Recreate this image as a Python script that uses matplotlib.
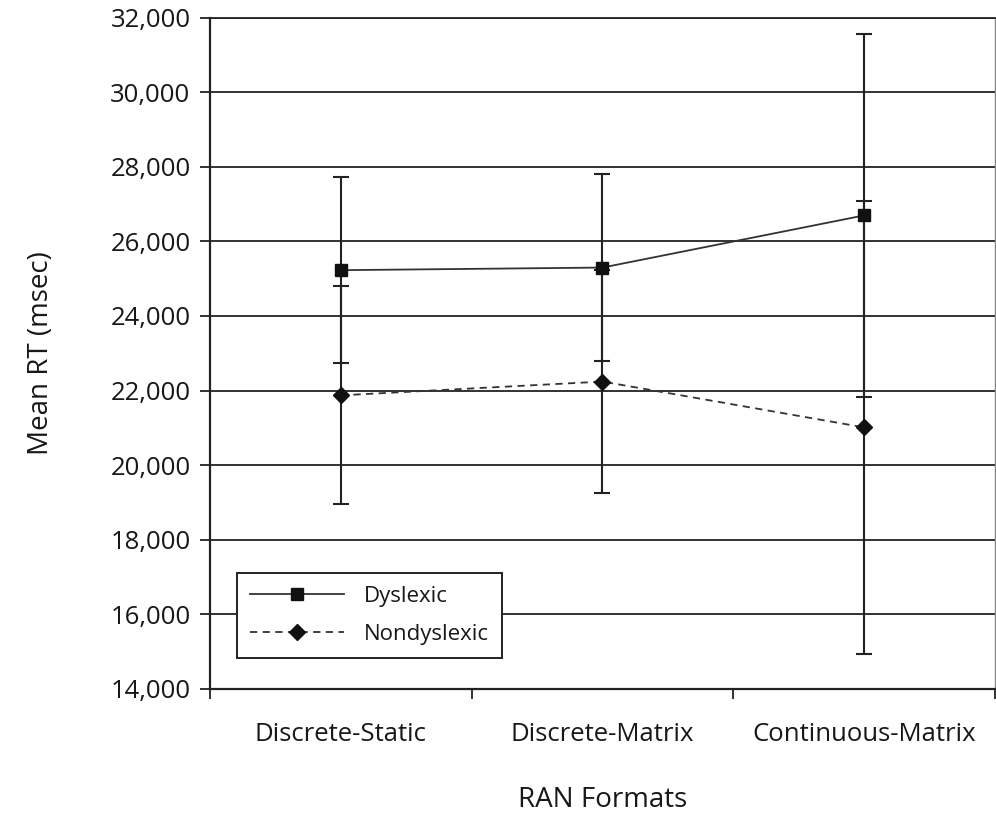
import matplotlib
matplotlib.use('Agg')
import matplotlib.pyplot as plt
import numpy as np

formats = ['Discrete-Static', 'Discrete-Matrix', 'Continuous-Matrix']
dyslexic_mean = [25230, 25300, 26700]
dyslexic_sd = [2500, 2520, 4870]
nondyslexic_mean = [21870, 22240, 21010]
nondyslexic_sd = [2930, 2990, 6090]
yticks = [14000, 16000, 18000, 20000, 22000, 24000, 26000, 28000, 30000, 32000]

plt.rcParams['font.family'] = ['Open Sans', 'DejaVu Sans']
text_color = '#1a1718'
tick_size = 18.5
label_size = 20

fig = plt.figure(figsize=(9.96, 8.13), dpi=100)
ax = fig.add_axes([0.2108, 0.1531, 0.7882, 0.8248])

x = np.arange(len(formats))

ax.errorbar(x, dyslexic_mean, yerr=dyslexic_sd, fmt='none', ecolor='#222222',
            elinewidth=1.5, capsize=6, capthick=1.5, zorder=3)
ax.errorbar(x, nondyslexic_mean, yerr=nondyslexic_sd, fmt='none', ecolor='#222222',
            elinewidth=1.5, capsize=6, capthick=1.5, zorder=3)

ax.plot(x, dyslexic_mean, color='#333333', lw=1.3, linestyle='-',
        marker='s', markersize=9, markerfacecolor='#111111', markeredgecolor='#111111',
        label='Dyslexic', zorder=4)
ax.plot(x, nondyslexic_mean, color='#333333', lw=1.3, linestyle=(0, (4, 3)),
        marker='D', markersize=8, markerfacecolor='#111111', markeredgecolor='#111111',
        label='Nondyslexic', zorder=4)

ax.set_xlim(-0.5, len(formats) - 0.5)
ax.set_ylim(14000, 32000)
ax.set_yticks(yticks)
ax.set_yticklabels(['{:,}'.format(v) for v in yticks])
ax.yaxis.grid(True, color='#222222', lw=1.3)
ax.set_axisbelow(True)

# category labels centred, ticks at the boundaries
ax.set_xticks(np.arange(len(formats) + 1) - 0.5)
ax.set_xticklabels([])
ax.set_xticks(x, minor=True)
ax.set_xticklabels(formats, minor=True)
ax.tick_params(axis='x', which='major', direction='out', length=7, width=1.3, color='#222222')
ax.tick_params(axis='x', which='minor', length=0, pad=24, labelsize=tick_size, labelcolor=text_color)
ax.tick_params(axis='y', direction='out', length=7, width=1.3, color='#222222',
               labelsize=tick_size, labelcolor=text_color, pad=7)

for side in ['left', 'bottom']:
    ax.spines[side].set_color('#222222')
    ax.spines[side].set_linewidth(1.6)
ax.spines['top'].set_color('#222222')
ax.spines['top'].set_linewidth(1.3)
ax.spines['right'].set_color('#888888')
ax.spines['right'].set_linewidth(1.0)

ax.set_ylabel('Mean RT (msec)', fontsize=label_size, color=text_color, labelpad=40)
ax.set_xlabel('RAN Formats', fontsize=label_size, color=text_color, labelpad=28)

leg = ax.legend(loc='lower left', bbox_to_anchor=(0.0344, 0.0455), fontsize=16,
                handlelength=4.2, handletextpad=0.9, borderpad=0.6, labelspacing=0.75,
                borderaxespad=0,
                fancybox=False, framealpha=1, edgecolor='#222222', labelcolor=text_color)
leg.get_frame().set_linewidth(1.4)

fig.savefig('out.png', dpi=100)
